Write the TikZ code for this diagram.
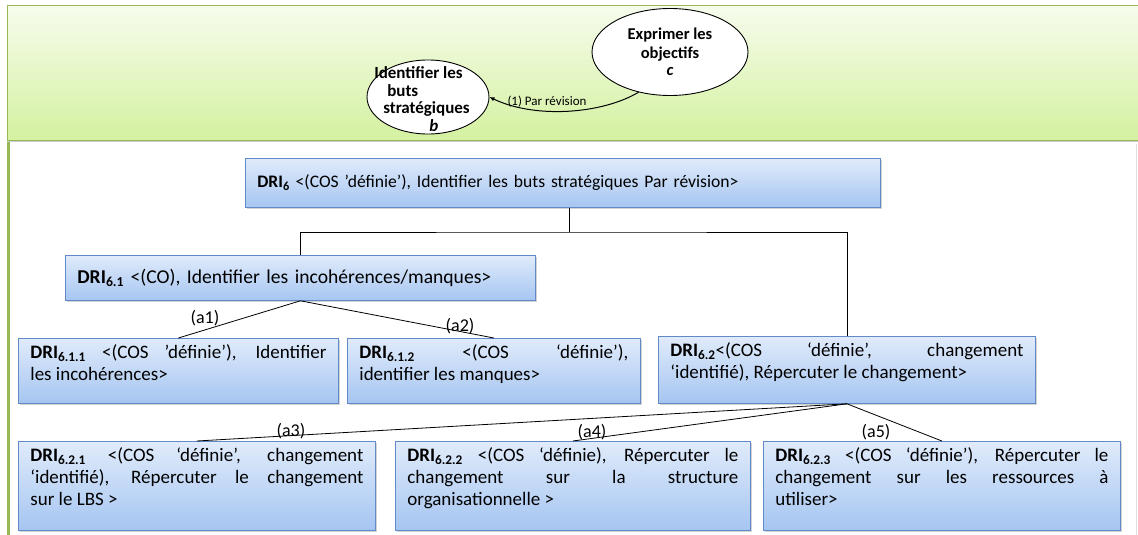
\documentclass[tikz,border=0pt]{standalone}
\usepackage{fontspec}
\setmainfont{Carlito}
\usetikzlibrary{calc,arrows.meta,shapes.geometric,shadows}

\definecolor{boxtop}{RGB}{224,235,251}
\definecolor{boxbot}{RGB}{165,197,241}
\definecolor{boxedge}{RGB}{98,138,200}
\definecolor{bandtop}{RGB}{246,252,236}
\definecolor{bandbot}{RGB}{212,241,160}
\definecolor{bandedge}{RGB}{150,184,86}

\newcommand{\dri}[1]{\textbf{DRI\textsubscript{#1}}}
\newcommand{\dritext}[3]{\begin{minipage}[t][#2][t]{#1}#3\end{minipage}}

\begin{document}
\begin{tikzpicture}[x=1pt,y=-1pt,
	dribox/.style={draw=boxedge, line width=0.8pt, top color=boxtop, bottom color=boxbot,
		drop shadow={shadow xshift=1.5pt, shadow yshift=-1.5pt, opacity=0.35},
		inner xsep=12pt, inner ysep=6pt, anchor=north west, font=\fontsize{19}{22}\selectfont},
	goal/.style={ellipse, draw, line width=0.9pt, fill=white, inner sep=0pt, align=center,
		font=\bfseries\fontsize{16.5}{19}\selectfont},
	conn/.style={draw=black, line width=0.8pt},
	lbl/.style={font=\fontsize{18}{20}\selectfont, inner sep=0pt}]
	\useasboundingbox (0,0) rectangle (1138,535);
	% green band with the two goals
	\draw[bandedge, line width=1pt, top color=bandtop, bottom color=bandbot,
		drop shadow={shadow xshift=0pt, shadow yshift=-2pt, opacity=0.4}] (7,6) rectangle (1145,140);
	\draw[bandedge, line width=2.5pt] (8.5,142) -- (8.5,540);
	\draw[black!12, line width=0.6pt] (1136,144) -- (1136,540);
	\node[goal, minimum width=156, minimum height=87] (c) at (670,52) {Exprimer les\\objectifs\\[-2pt]\textit{c}};
	\node[goal, minimum width=122, minimum height=74] (b) at (428,97) {};
	\node[align=left, inner sep=0pt, font=\bfseries\fontsize{17}{17.5}\selectfont] (bt) at (422,99)
		{Identifier les\\\hspace*{13pt}buts\\\hspace*{9pt}stratégiques\\\hspace*{55pt}\textit{b}};
	\draw[line width=1pt, -{Latex[length=5pt,width=4.5pt]}] (c.-128) .. controls (602,114) and (535,119) .. (b.east);
	\node[font=\fontsize{13}{15}\selectfont, inner sep=0pt] (lrev) at (547,102) {(1) Par révision};
	% DRI tree
	\node[dribox, minimum height=49, text width=611, align=left, font=\fontsize{17.6}{22}\selectfont] (d6) at (245,158)
		{\dri{6} <(COS ’définie’), Identifier les buts stratégiques Par révision>};
	\node[dribox, minimum height=45, text width=446, align=left, font=\fontsize{19.6}{22}\selectfont] (d61) at (65,255)
		{\dri{6.1} <(CO), Identifier les incohérences/manques>};
	\node[dribox] (d611) at (18,338) {\dritext{296pt}{53pt}{\dri{6.1.1} <(COS ’définie’), Identifier\linebreak les incohérences>}};
	\node[dribox] (d612) at (347,338) {\dritext{269pt}{53pt}{\dri{6.1.2} <(COS ‘définie’),\linebreak identifier les manques>}};
	\node[dribox] (d62) at (658,336) {\dritext{353pt}{55pt}{\dri{6.2}<(COS ‘définie’, changement\linebreak ‘identifié), Répercuter le changement>}};
	\node[dribox] (d621) at (18,441) {\dritext{333pt}{77pt}{\dri{6.2.1} <(COS ‘définie’, changement\linebreak ‘identifié), Répercuter le changement\linebreak sur le LBS >}};
	\node[dribox] (d622) at (395,441) {\dritext{331pt}{77pt}{\dri{6.2.2} <(COS ‘définie), Répercuter le\linebreak changement sur la structure\linebreak organisationnelle >}};
	\node[dribox] (d623) at (763,441) {\dritext{333pt}{77pt}{\dri{6.2.3} <(COS ‘définie’), Répercuter le\linebreak changement sur les ressources à\linebreak utiliser>}};
	\coordinate (j6) at (569,232);
	\draw[conn] (j6 |- d6.south) -- (j6);
	\draw[conn] (d61.north) |- (j6) -| (d62.north);
	\draw[conn] (d61.south) -- (d611.north);
	\draw[conn] (d61.south) -- (d612.north);
	\draw[conn] (d62.south) -- (d621.north);
	\draw[conn] (d62.south) -- (d622.north);
	\draw[conn] (d62.south) -- (d623.north);
	\node[lbl] (la1) at (205,318) {(a1)};
	\node[lbl] (la2) at (460,326) {(a2)};
	\node[lbl] (la3) at (291,431) {(a3)};
	\node[lbl] (la4) at (592,432) {(a4)};
	\node[lbl] (la5) at (876,432) {(a5)};
\end{tikzpicture}
\end{document}
